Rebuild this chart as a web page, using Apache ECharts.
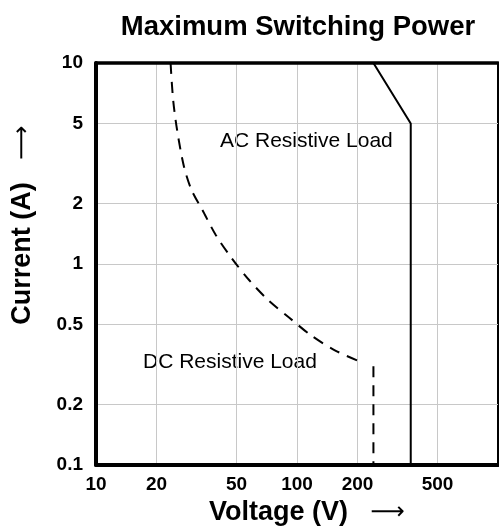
<!DOCTYPE html>
<html>
<head>
<meta charset="utf-8">
<script src="https://cdn.jsdelivr.net/npm/echarts@6/dist/echarts.min.js"></script>
<style>
html, body { margin: 0; padding: 0; background: #fff; }
#container { width: 499px; height: 527px; }
</style>
</head>
<body>
<div id="container"></div>
<script>
// axis ticks
var xLabels = [10, 20, 50, 100, 200, 500];
var yLabels = [0.1, 0.2, 0.5, 1, 2, 5, 10];
var xGridValues = [20, 50, 100, 200, 500];
var yGridValues = [0.2, 0.5, 1, 2, 5];

// AC resistive load (solid)
var acVoltage = [240, 368, 368];
var acCurrent = [10, 5, 0.1];

// DC resistive load (dashed curve + cut-off)
var dcVoltage = [23.5, 24.2, 25.4, 27.4, 29.9, 33.8, 39.5, 47.3, 57.9, 72, 91.6, 118, 156, 206];
var dcCurrent = [10, 6.55, 4.55, 3.05, 2.33, 1.86, 1.39, 1.07, 0.83, 0.66, 0.54, 0.44, 0.37, 0.327];
var dcCutVoltage = [240, 240];
var dcCutCurrent = [0.31, 0.1];

var font = '"Liberation Sans", Arial, sans-serif';

function pairs(xs, ys) {
    var out = [];
    for (var i = 0; i < xs.length; i++) out.push([xs[i], ys[i]]);
    return out;
}

var myChart = echarts.init(document.getElementById('container'));

var option = {
    animation: false,
    backgroundColor: '#fff',
    title: {
        text: 'Maximum Switching Power',
        left: 293,
        top: 8,
        textAlign: 'center',
        textStyle: { fontFamily: font, fontSize: 27.5, fontWeight: 'bold', color: '#000' }
    },
    grid: {
        left: 96, right: 1, top: 63, bottom: 62,
        outerBoundsMode: 'none',
        show: true, borderColor: '#000', borderWidth: 2
    },
    xAxis: [{
        type: 'log', min: 10, max: 1000,
        name: 'Voltage (V)   {a|⟶}',
        nameLocation: 'middle', nameGap: 33,
        nameTextStyle: {
            fontFamily: font, fontSize: 27, fontWeight: 'bold', color: '#000',
            padding: [0, 0, 0, 20],
            rich: { a: { fontFamily: '"DejaVu Sans"', fontSize: 24, fontWeight: 'normal', color: '#000' } }
        },
        axisLine: { lineStyle: { color: '#000', width: 4 } },
        axisTick: { show: false, customValues: xGridValues },
        axisLabel: {
            customValues: xLabels, margin: 10,
            fontFamily: font, fontSize: 19, fontWeight: 'bold', color: '#000',
            showMinLabel: true
        },
        splitLine: { show: true, lineStyle: { color: '#c8c8c8', width: 1 } }
    }, {
        type: 'log', min: 10, max: 1000, position: 'top',
        axisLine: { lineStyle: { color: '#000', width: 3.5 } },
        axisTick: { show: false }, axisLabel: { show: false }, splitLine: { show: false }
    }],
    yAxis: {
        type: 'log', min: 0.1, max: 10,
        name: 'Current (A)   {a|⟶}',
        nameLocation: 'middle', nameGap: 60, nameRotate: 90,
        nameTextStyle: {
            fontFamily: font, fontSize: 27, fontWeight: 'bold', color: '#000',
            padding: [0, 0, 0, 78],
            rich: { a: { fontFamily: '"DejaVu Sans"', fontSize: 24, fontWeight: 'normal', color: '#000' } }
        },
        axisLine: { lineStyle: { color: '#000', width: 4 } },
        axisTick: { show: false, customValues: yGridValues },
        axisLabel: {
            customValues: yLabels, margin: 13,
            fontFamily: font, fontSize: 19, fontWeight: 'bold', color: '#000',
            showMinLabel: true, showMaxLabel: true
        },
        splitLine: { show: true, lineStyle: { color: '#c8c8c8', width: 1 } }
    },
    graphic: [
        { type: 'text', x: 220, y: 141, style: { text: 'AC Resistive Load', font: '21px ' + font, fill: '#000', verticalAlign: 'middle' } },
        { type: 'text', x: 143, y: 362, style: { text: 'DC Resistive Load', font: '21px ' + font, fill: '#000', verticalAlign: 'middle' } }
    ],
    series: [{
        name: 'AC',
        type: 'line',
        data: pairs(acVoltage, acCurrent),
        symbol: 'none',
        lineStyle: { color: '#000', width: 2 }
    }, {
        name: 'DC',
        type: 'line',
        data: pairs(dcVoltage, dcCurrent),
        symbol: 'none', smooth: 0.3,
        lineStyle: { color: '#000', width: 2, type: [11, 8] }
    }, {
        name: 'DC cut',
        type: 'line',
        data: pairs(dcCutVoltage, dcCutCurrent),
        symbol: 'none',
        lineStyle: { color: '#000', width: 2, type: [11, 8] }
    }]
};

myChart.setOption(option);
</script>
</body>
</html>
